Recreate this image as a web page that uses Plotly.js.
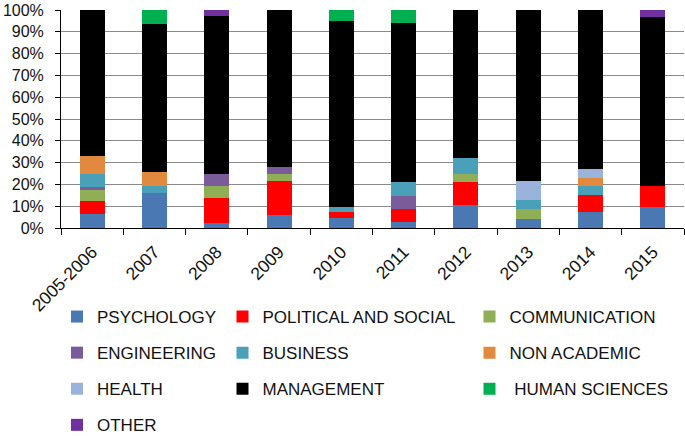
<!DOCTYPE html>
<html>
<head>
<meta charset="utf-8">
<script src="https://cdn.plot.ly/plotly-3.0.1.min.js"></script>
<style>html,body{margin:0;padding:0;background:#fff;}#chart{width:685px;height:436px;}</style>
</head>
<body>
<div id="chart"></div>
<script>
const years = ["2005-2006","2007","2008","2009","2010","2011","2012","2013","2014","2015"];

const psychology  = [6.6, 15.9, 2.4, 6.0, 4.4, 2.9, 10.6, 4.0, 7.3, 9.5];
const political   = [5.6, 0,   11.4, 15.6, 2.8, 6.0, 10.7, 0,   7.8, 9.8];
const communication=[5.4, 0,   5.5, 3.3, 0,   0,   3.5, 4.6, 0,   0];
const engineering = [1.4, 0,   5.5, 3.2, 0,   5.9, 0,   0,   0,   0];
const business    = [5.6, 3.5, 0,   0,   2.3, 6.1, 7.2, 4.2, 4.2, 0];
const nonAcademic = [8.3, 6.1, 0,   0,   0,   0,   0,   0,   3.8, 0];
const health      = [0,   0,   0,   0,   0,   0,   0,   8.8, 3.8, 0];
const management  = [67.1,68.1,72.6,71.9,85.6,73.0,68.0,78.4,73.1,77.6];
const humanSci    = [0,   6.4, 0,   0,   4.9, 6.1, 0,   0,   0,   0];
const other       = [0,   0,   2.6, 0,   0,   0,   0,   0,   0,   3.1];

const yTicks = [0,10,20,30,40,50,60,70,80,90,100];
const yTickLabels = ["0%","10%","20%","30%","40%","50%","60%","70%","80%","90%","100%"];

const series = [
  {name:"PSYCHOLOGY", y:psychology, color:"#4a78b3", legend:"legend"},
  {name:"POLITICAL AND SOCIAL", y:political, color:"#ff0000", legend:"legend2"},
  {name:"COMMUNICATION", y:communication, color:"#8fae55", legend:"legend3"},
  {name:"ENGINEERING", y:engineering, color:"#7a5c9a", legend:"legend"},
  {name:"BUSINESS", y:business, color:"#4aa0b8", legend:"legend2"},
  {name:"NON ACADEMIC", y:nonAcademic, color:"#e0893f", legend:"legend3"},
  {name:"HEALTH", y:health, color:"#9ab3da", legend:"legend"},
  {name:"MANAGEMENT", y:management, color:"#000000", legend:"legend2"},
  {name:"\u00A0HUMAN SCIENCES", y:humanSci, color:"#00b050", legend:"legend3"},
  {name:"OTHER", y:other, color:"#7030a0", legend:"legend"}
];

const FONT = "Liberation Sans, Arial, Helvetica, sans-serif";

const traces = series.map((s,i) => ({
  type:"bar", x:years, y:s.y, name:s.name,
  marker:{color:s.color, line:{width:0}},
  legend:s.legend, legendgroup:"g"+i,
  hoverinfo:"x+y+name"
}));

const L = 61, R = 1, T = 10, B = 208;
const W = 685, H = 436;
const pw = W - L - R, ph = H - T - B;
function px2x(px){ return (px - L)/pw; }
function px2y(py){ return (H - B - py)/ph; }

const legendCommon = {
  font:{family:FONT, size:17, color:"#111"},
  bgcolor:"rgba(0,0,0,0)", borderwidth:0,
  orientation:"v", tracegroupgap:11, traceorder:"grouped",
  xanchor:"left", yanchor:"top", itemclick:false, itemdoubleclick:false
};
const legTop = px2y(299);

const layout = {
  width:W, height:H,
  margin:{l:L, r:R, t:T, b:B, pad:0, autoexpand:false},
  paper_bgcolor:"#ffffff", plot_bgcolor:"#ffffff",
  barmode:"stack", barnorm:"percent", bargap:0.6,
  font:{family:FONT, color:"#111"},
  xaxis:{
    type:"category", tickangle:-45, tickson:"boundaries",
    ticks:"outside", ticklen:6, tickcolor:"#000", tickwidth:1,
    showline:true, linecolor:"#000", linewidth:1,
    showgrid:false, zeroline:false, automargin:false,
    tickfont:{family:FONT, size:17.5, color:"#111"},
    ticklabelstandoff:6
  },
  yaxis:{
    range:[0,100], tickvals:yTicks, ticktext:yTickLabels,
    ticks:"outside", ticklen:5, tickcolor:"#000", tickwidth:1,
    showline:true, linecolor:"#000", linewidth:1,
    showgrid:true, gridcolor:"#8a8a8a", gridwidth:1, zeroline:false, automargin:false,
    tickfont:{family:FONT, size:16, color:"#111"},
    ticklabelstandoff:8
  },
  showlegend:true,
  legend:Object.assign({}, legendCommon, {x:px2x(57), y:legTop}),
  legend2:Object.assign({}, legendCommon, {x:px2x(222.5), y:legTop}),
  legend3:Object.assign({}, legendCommon, {x:px2x(469.5), y:legTop})
};

Plotly.newPlot("chart", traces, layout, {displayModeBar:false, staticPlot:true});
</script>
</body>
</html>
